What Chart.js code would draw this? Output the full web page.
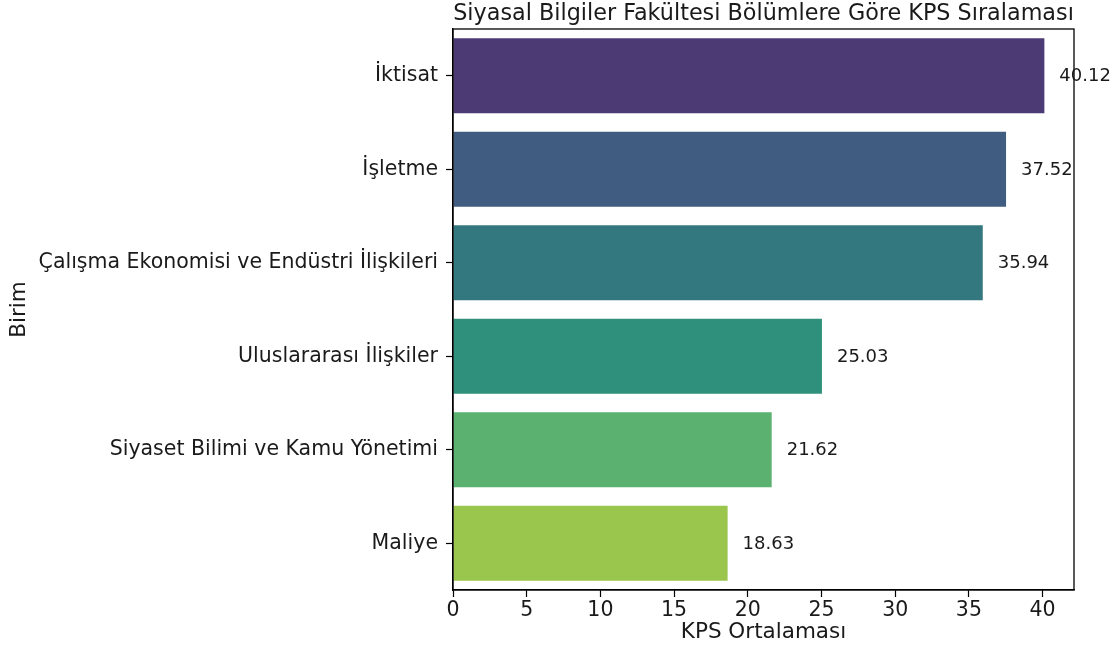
<!DOCTYPE html>
<html>
<head>
<meta charset="utf-8">
<script src="https://cdn.jsdelivr.net/npm/chart.js@4"></script>
<style>
  html, body { margin: 0; padding: 0; background: #fff; }
  #wrap { width: 1119px; height: 646px; }
</style>
</head>
<body>
<div id="wrap"><canvas id="chart"></canvas></div>
<script>
// --- veriler ---
const birimler = [
    'İktisat',
    'İşletme',
    'Çalışma Ekonomisi ve Endüstri İlişkileri',
    'Uluslararası İlişkiler',
    'Siyaset Bilimi ve Kamu Yönetimi',
    'Maliye'
];
const kpsOrtalama = [40.12, 37.52, 35.94, 25.03, 21.62, 18.63];
const barRenkleri = ['#4b3a73', '#405c80', '#34787f', '#2f917c', '#5bb270', '#9bc64d'];
const xTickStep = 5;
const xMax = 42.13;

const FONT = 'DejaVu Sans';
const TITLE = 'Siyasal Bilgiler Fakültesi Bölümlere Göre KPS Sıralaması';

// başlık, çerçeve ve değer etiketleri
const extrasPlugin = {
    id: 'extras',
    afterDraw(chart) {
        const { ctx, chartArea: a } = chart;
        ctx.save();
        // çerçeve
        ctx.strokeStyle = '#000';
        ctx.lineWidth = 1.3;
        ctx.strokeRect(a.left, a.top, a.right - a.left, a.bottom - a.top);

        // başlık
        ctx.fillStyle = '#1a1a1a';
        ctx.font = '22.3px "' + FONT + '"';
        ctx.textAlign = 'center';
        ctx.textBaseline = 'middle';
        ctx.fillText(TITLE, (a.left + a.right) / 2, 14);

        // değer etiketleri
        const meta = chart.getDatasetMeta(0);
        ctx.font = '18px "' + FONT + '"';
        ctx.textAlign = 'left';
        meta.data.forEach((bar, i) => {
            ctx.fillText(kpsOrtalama[i].toFixed(2), bar.x + 15, bar.y + 1);
        });
        ctx.restore();
    }
};

new Chart(document.getElementById('chart').getContext('2d'), {
    type: 'bar',
    data: {
        labels: birimler,
        datasets: [{
            data: kpsOrtalama,
            backgroundColor: barRenkleri,
            borderWidth: 0,
            categoryPercentage: 0.8,
            barPercentage: 1.0
        }]
    },
    options: {
        indexAxis: 'y',
        responsive: true, maintainAspectRatio: false, animation: false,
        layout: { padding: { left: 6, right: 45, top: 29, bottom: 0 } },
        plugins: { legend: { display: false }, tooltip: { enabled: false }, title: { display: false } },
        scales: {
            x: {
                min: 0, max: xMax,
                grid: { drawOnChartArea: false, tickLength: 7, tickColor: '#000', tickWidth: 1.2 },
                border: { color: '#000', width: 1.3 },
                ticks: {
                    stepSize: xTickStep, includeBounds: false, padding: 1,
                    color: '#1a1a1a', font: { family: FONT, size: 20.5 }
                },
                title: {
                    display: true, text: 'KPS Ortalaması', color: '#1a1a1a',
                    font: { family: FONT, size: 21.5 }, padding: { top: 0, bottom: 1 }
                },
                afterFit(scale) { scale.height = 56; }
            },
            y: {
                grid: { drawOnChartArea: false, offset: false, tickLength: 7, tickColor: '#000', tickWidth: 1.2 },
                border: { color: '#000', width: 1.3 },
                ticks: { padding: 8, color: '#1a1a1a', font: { family: FONT, size: 20.5 } },
                title: {
                    display: true, text: 'Birim', color: '#1a1a1a',
                    font: { family: FONT, size: 21.5 }, padding: { top: 1, bottom: 0 }
                },
                afterFit(scale) { scale.width = 447; }
            }
        }
    },
    plugins: [extrasPlugin]
});
</script>
</body>
</html>
